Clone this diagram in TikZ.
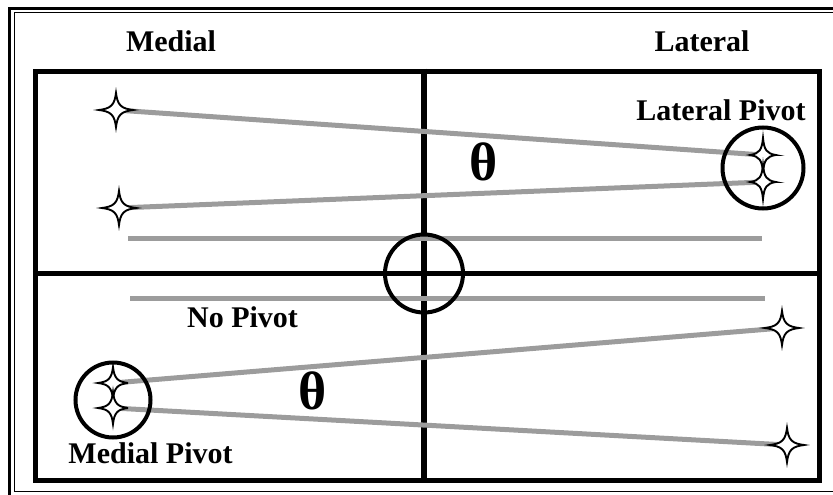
\documentclass[tikz,border=0pt]{standalone}
\usepackage{fontspec}
\setmainfont{Liberation Serif}
\usetikzlibrary{positioning}
\definecolor{ArmGray}{HTML}{9C9C9C}
\tikzset{sparkle/.pic={\draw[line width=1.9pt,fill=white] (17,0) .. controls (5,1.5) and (1.5,5) .. (0,17) .. controls (-1.5,5) and (-5,1.5) .. (-17,0) .. controls (-5,-1.5) and (-1.5,-5) .. (0,-17) .. controls (1.5,-5) and (5,-1.5) .. cycle;}}

\begin{document}
\begin{tikzpicture}[x=1pt,y=-1pt,lbl/.style={font=\fontsize{30}{32}\selectfont\bfseries,anchor=base,inner sep=0pt},ang/.style={font=\fontsize{54}{56}\selectfont\bfseries,inner sep=0pt},arm/.style={line width=5pt,ArmGray},frame/.style={line width=5.5pt},ring/.style={draw,circle,line width=4pt,inner sep=0pt}]
\useasboundingbox (0,0) rectangle (833,495);
\begin{scope}
\clip (0,0) rectangle (833,495);
\draw[line width=3.5pt] (9.5,8.5) rectangle (850,505);
\draw[line width=1pt] (14,12.5) rectangle (845,491);
\end{scope}
\node[draw,frame,minimum width=784pt,minimum height=409pt,inner sep=0pt] (box) at (427.5,276) {};
\coordinate (ctr) at (424,273.5);
\draw[frame] (ctr |- box.north) -- (ctr |- box.south);
\draw[frame] (ctr -| box.west) -- (ctr -| box.east);
\node[lbl] (med) at (171,52) {Medial};
\node[lbl] (lat) at (702,52) {Lateral};
\node[lbl] (latpiv) at (721,120) {Lateral Pivot};
\node[lbl] (nopiv) at (242.5,327) {No Pivot};
\node[lbl] (medpiv) at (150.5,463) {Medial Pivot};
\node[ang] (th1) at (484,162) {θ};
\node[ang] (th2) at (313,391) {θ};
\coordinate (ml1) at (116,110);
\coordinate (ml2) at (119,208);
\coordinate (lp1) at (763,155);
\coordinate (lp2) at (763,182);
\coordinate (mp1) at (113,383);
\coordinate (mp2) at (113,408);
\coordinate (lr1) at (782,328);
\coordinate (lr2) at (787,445);
\coordinate (u1) at (128,238);
\coordinate (u2) at (762,238);
\coordinate (l1) at (130,298);
\coordinate (l2) at (765,298);
\draw[arm] (ml1) -- (lp1);
\draw[arm] (ml2) -- (lp2);
\draw[arm] (u1) -- (u2);
\draw[arm] (l1) -- (l2);
\draw[arm] (mp1) -- (lr1);
\draw[arm] (mp2) -- (lr2);
\pic at (ml1) {sparkle};
\pic at (ml2) {sparkle};
\pic at (lr1) {sparkle};
\pic at (lr2) {sparkle};
\pic[xscale=0.75] at (lp1) {sparkle};
\pic[xscale=0.75] at (lp2) {sparkle};
\pic[xscale=0.88,yscale=0.94] at (mp1) {sparkle};
\pic[xscale=0.88,yscale=0.94] at (mp2) {sparkle};
\node[ring,minimum size=78pt] (hub) at (ctr) {};
\node[ring,minimum size=81pt] (latring) at (763,168) {};
\node[ring,minimum size=75pt] (medring) at (113,400) {};
\end{tikzpicture}
\end{document}
